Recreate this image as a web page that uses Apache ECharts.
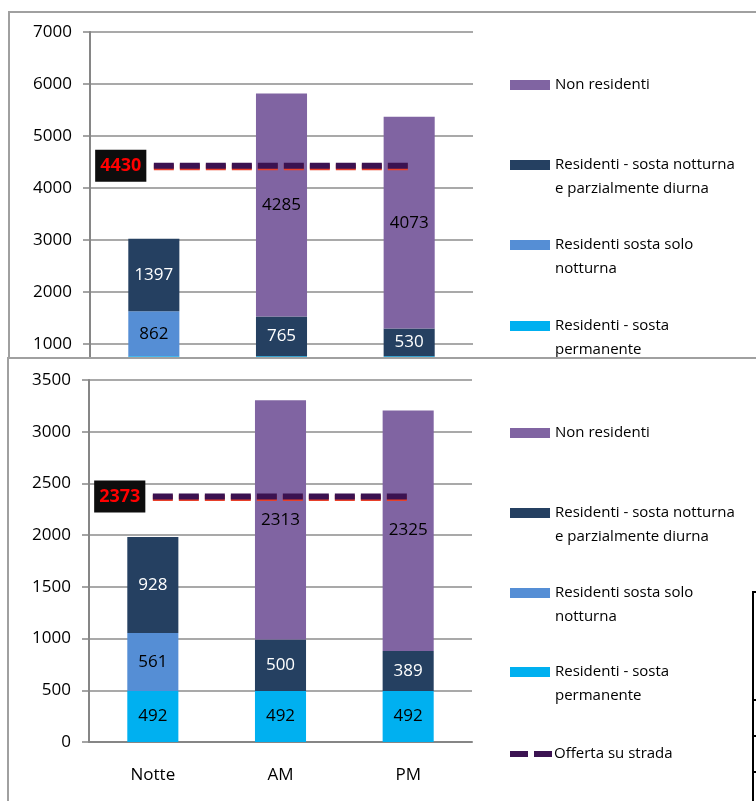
<!DOCTYPE html>
<html>
<head>
<meta charset="utf-8">
<script src="https://cdn.jsdelivr.net/npm/echarts@6/dist/echarts.min.js"></script>
<style>
  * { margin: 0; padding: 0; box-sizing: border-box; }
  body { width: 756px; height: 801px; background: #fff; position: relative; overflow: hidden; }
  .panel-border { position: absolute; border-left: 2px solid #a0a0a0; border-top: 2px solid #a0a0a0; pointer-events: none; }
  #chart-top { position: absolute; left: 0; top: 0; width: 756px; height: 420px; }
  .bottom-panel { position: absolute; left: 0; top: 357px; width: 756px; height: 444px; background: #fff; z-index: 2; }
  #chart-bottom { position: absolute; left: 0; top: 0; width: 756px; height: 444px; }
  .edge { position: absolute; background: #000; z-index: 3; }
</style>
</head>
<body>
<div id="chart-top"></div>
<div class="panel-border" style="left: 8px; top: 11px; width: 748px; height: 400px"></div>
<div class="bottom-panel">
  <div id="chart-bottom"></div>
  <div class="panel-border" style="left: 7px; top: 0; width: 749px; height: 444px"></div>
</div>
<!-- bordo della tabella tagliata a destra -->
<div class="edge" style="left: 752px; top: 591px; width: 2px; height: 210px"></div>
<div class="edge" style="left: 752px; top: 591px; width: 4px; height: 2px"></div>
<div class="edge" style="left: 752px; top: 699px; width: 4px; height: 2px"></div>
<div class="edge" style="left: 752px; top: 735px; width: 4px; height: 2px"></div>
<div class="edge" style="left: 752px; top: 771px; width: 4px; height: 2px"></div>

<script>
const categories = ['Notte', 'AM', 'PM']
const seriesNames = [
  'Residenti - sosta permanente',
  'Residenti sosta solo notturna',
  'Residenti - sosta notturna e parzialmente diurna',
  'Non residenti',
  'Offerta su strada'
]
const legendLines = [
  'Residenti - sosta\npermanente',
  'Residenti sosta solo\nnotturna',
  'Residenti - sosta notturna\ne parzialmente diurna',
  'Non residenti',
  'Offerta su strada'
]
// ordine della legenda dall'alto
const legendOrder = [3, 2, 1, 0, 4]

// grafico superiore (tagliato sotto 1000)
const topPermanente = [766, 766, 766]
const topSoloNotturna = [862, null, null]
const topNotturnaDiurna = [1397, 765, 530]
const topNonResidenti = [null, 4285, 4073]
const topOfferta = [4430, 4430, 4430]
const topAxis = [0, 7000, 1000]

// grafico inferiore
const botPermanente = [492, 492, 492]
const botSoloNotturna = [561, null, null]
const botNotturnaDiurna = [928, 500, 389]
const botNonResidenti = [null, 2313, 2325]
const botOfferta = [2373, 2373, 2373]
const botAxis = [0, 3500, 500]

const barColors = ['#00b0f0', '#558ed5', '#254061', '#8064a2']
const labelColors = ['#000', '#000', '#fff', '#000']
const lineColor = '#3b1251'
const font = "'Open Sans', 'Noto Sans', sans-serif"

const buildOption = (stacks, offerta, axis, lay) => {
  const series = stacks.map((vals, i) => ({
    name: seriesNames[i],
    type: 'bar',
    stack: 'tot',
    barWidth: '40%',
    data: vals,
    itemStyle: { color: barColors[i] },
    label: { show: true, position: 'inside', color: labelColors[i], fontSize: 17, fontFamily: font },
    emphasis: { disabled: true }
  }))
  series.push({
    name: seriesNames[4],
    type: 'line',
    z: 5,
    symbol: 'circle',
    symbolSize: 1,
    itemStyle: { color: 'rgba(0,0,0,0)' },
    data: offerta.map((v, i) => i === 0 ? { value: v, label: { show: true } } : v),
    lineStyle: { color: lineColor, width: 6, type: [20, 6], shadowColor: '#e8402a', shadowOffsetY: 1.5, shadowBlur: 0 },
    label: {
      show: false, position: 'left', distance: 7,
      backgroundColor: '#0d0d0d', color: '#ff0000', fontWeight: 'bold',
      fontSize: 18, fontFamily: font, lineHeight: 24, padding: [5, 5, 3, 5]
    },
    emphasis: { disabled: true }
  })

  // una legenda per voce, la prima riga del testo allineata al simbolo
  const legend = legendOrder.map((si, k) => {
    const two = legendLines[si].includes('\n')
    const item = {
      data: [seriesNames[si]],
      left: si === 4 ? 507 : 510,
      top: lay.legendY[k] - (two ? 34 : 10),
      padding: 0,
      itemWidth: si === 4 ? 42 : 40,
      itemHeight: 10,
      selectedMode: false,
      formatter: () => (two ? '\n' : '') + legendLines[si],
      textStyle: { fontFamily: font, fontSize: 15, color: '#000', lineHeight: 24 }
    }
    if (si === 4) {
      item.lineStyle = { width: 6, type: [18, 6], color: lineColor }
      item.textStyle.padding = [0, 0, 0, -3]
    } else {
      item.icon = 'rect'
    }
    return item
  })

  return {
    animation: false,
    grid: { left: lay.left, right: lay.right, top: lay.top, bottom: lay.bottom, outerBoundsMode: 'none' },
    legend,
    xAxis: {
      type: 'category',
      data: categories,
      axisLine: { lineStyle: { color: '#868686', width: 2 } },
      axisTick: { length: 6, lineStyle: { color: '#868686', width: 2 } },
      axisLabel: { color: '#000', fontSize: 17, fontFamily: font, lineHeight: 20, margin: 23 }
    },
    yAxis: {
      type: 'value',
      min: axis[0],
      max: axis[1],
      interval: axis[2],
      axisLine: { show: true, lineStyle: { color: '#868686', width: 2 } },
      axisTick: { show: true, length: 7, lineStyle: { color: '#868686', width: 1.5 } },
      splitLine: { lineStyle: { color: '#8c8c8c', width: 1.5 } },
      axisLabel: { color: '#000', fontSize: 17, fontFamily: font, margin: 18, formatter: v => String(v) }
    },
    series
  }
}

const chartTop = echarts.init(document.getElementById('chart-top'))
chartTop.setOption(buildOption(
  [topPermanente, topSoloNotturna, topNotturnaDiurna, topNonResidenti], topOfferta, topAxis,
  { left: 90, right: 283, top: 32, bottom: 24, legendY: [83, 163, 243, 324, 404] }
))

const chartBottom = echarts.init(document.getElementById('chart-bottom'))
chartBottom.setOption(buildOption(
  [botPermanente, botSoloNotturna, botNotturnaDiurna, botNonResidenti], botOfferta, botAxis,
  { left: 89, right: 284, top: 23, bottom: 59, legendY: [74, 154, 234, 313, 395] }
))
</script>
</body>
</html>
